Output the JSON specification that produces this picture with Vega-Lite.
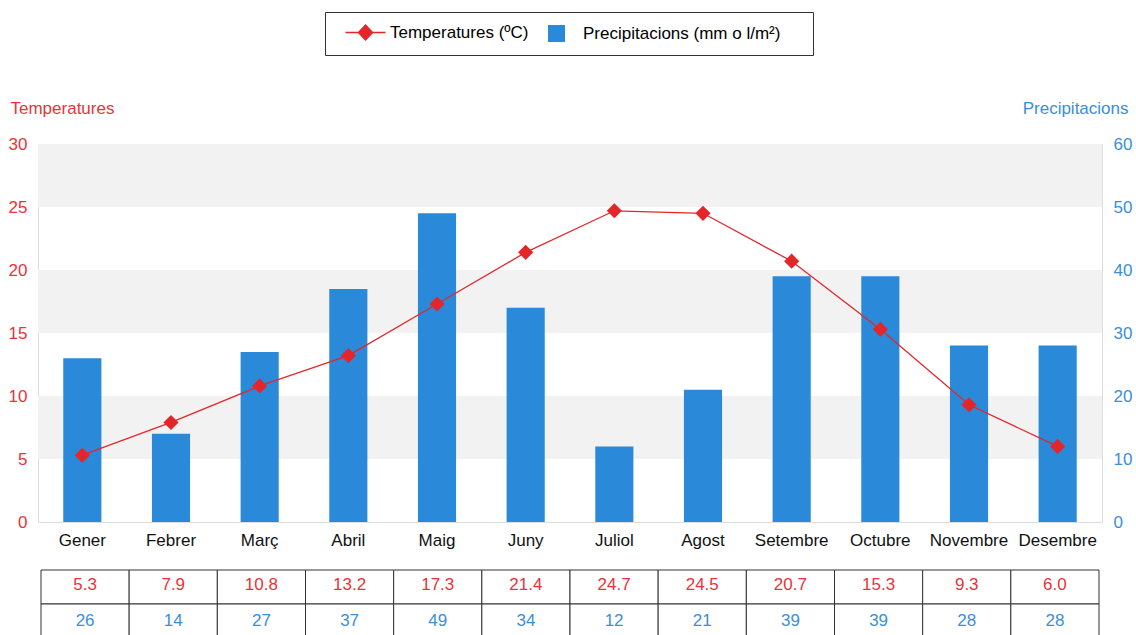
{
  "$schema": "https://vega.github.io/schema/vega-lite/v6.json",
  "padding": {"left": 7, "top": 11, "right": 5, "bottom": 0},
  "config": {
    "font": "Liberation Sans",
    "view": {"stroke": "#dddddd"},
    "axis": {"labelFont": "Liberation Sans", "titleFont": "Liberation Sans"},
    "legend": {"labelFont": "Liberation Sans"}
  },
  "data": {
    "values": [
      {"month": "Gener", "temp": 5.3, "prec": 26},
      {"month": "Febrer", "temp": 7.9, "prec": 14},
      {"month": "Març", "temp": 10.8, "prec": 27},
      {"month": "Abril", "temp": 13.2, "prec": 37},
      {"month": "Maig", "temp": 17.3, "prec": 49},
      {"month": "Juny", "temp": 21.4, "prec": 34},
      {"month": "Juliol", "temp": 24.7, "prec": 12},
      {"month": "Agost", "temp": 24.5, "prec": 21},
      {"month": "Setembre", "temp": 20.7, "prec": 39},
      {"month": "Octubre", "temp": 15.3, "prec": 39},
      {"month": "Novembre", "temp": 9.3, "prec": 28},
      {"month": "Desembre", "temp": 6.0, "prec": 28}
    ]
  },
  "vconcat": [
    {
      "width": 1064,
      "height": 378,
      "layer": [
        {
          "layer": [
            {
              "data": {"values": [{"lo": 10, "hi": 20}, {"lo": 30, "hi": 40}, {"lo": 50, "hi": 60}]},
              "mark": {"type": "rect", "color": "#f2f2f2"},
              "encoding": {
                "y": {"field": "lo", "type": "quantitative", "scale": {"domain": [0, 60]},
                  "axis": {"orient": "right", "values": [0, 10, 20, 30, 40, 50, 60], "title": "Precipitacions", "titleColor": "#3a8fd8", "titleFontSize": 17, "titleFontWeight": "normal", "titleAngle": 0, "titleAlign": "right", "titleBaseline": "alphabetic", "titleX": 26, "titleY": -31, "labelColor": "#3a8fd8", "labelFontSize": 17, "labelPadding": 11, "ticks": false, "domain": false, "grid": false}},
                "y2": {"field": "hi"}
              }
            },
            {
              "mark": {"type": "bar", "color": "#2b89d9"},
              "encoding": {
                "x": {"field": "month", "type": "nominal",
                  "scale": {"domain": ["Gener", "Febrer", "Març", "Abril", "Maig", "Juny", "Juliol", "Agost", "Setembre", "Octubre", "Novembre", "Desembre"], "paddingInner": 0.57, "paddingOuter": 0.285},
                  "axis": {"title": null, "labelAngle": 0, "labelColor": "#111111", "labelFontSize": 17, "labelPadding": 10, "ticks": false, "domain": false, "grid": false}},
                "y": {"field": "prec", "type": "quantitative", "scale": {"domain": [0, 60]},
                  "axis": {"orient": "right", "values": [0, 10, 20, 30, 40, 50, 60], "title": "Precipitacions", "titleColor": "#3a8fd8", "titleFontSize": 17, "titleFontWeight": "normal", "titleAngle": 0, "titleAlign": "right", "titleBaseline": "alphabetic", "titleX": 26, "titleY": -31, "labelColor": "#3a8fd8", "labelFontSize": 17, "labelPadding": 11, "ticks": false, "domain": false, "grid": false}},
                "color": {"datum": "Precipitacions (mm o l/m²)",
                  "scale": {"domain": ["Temperatures (ºC)", "Precipitacions (mm o l/m²)"], "range": ["#e4262b", "#2b89d9"]},
                  "legend": {
                    "title": null, "orient": "none", "legendX": 287, "legendY": -132, "direction": "horizontal",
                    "padding": 12, "strokeColor": "#333333", "fillColor": "#ffffff",
                    "symbolSize": 400, "symbolStrokeWidth": 1.5, "labelOffset": 36, "columnPadding": 1,
                    "labelFontSize": 17, "labelColor": "#000000", "labelLimit": 400,
                    "encode": {
                      "symbols": {"update": {
                        "shape": {"signal": "datum.value === 'Temperatures (ºC)' ? 'M0,0L4,0M1.3,0L2,-0.75L2.7,0L2,0.75Z' : 'M0.95,-0.85H2.65V0.85H0.95ZM26.2,0'"},
                        "fill": {"signal": "scale('color', datum.value)"},
                        "stroke": {"signal": "scale('color', datum.value)"},
                        "strokeWidth": {"signal": "datum.value === 'Temperatures (ºC)' ? 1.5 : 0"},
                        "size": {"value": 400},
                        "opacity": {"value": 1},
                        "fillOpacity": {"value": 1},
                        "strokeOpacity": {"value": 1}
                      }}
                    }
                  }}
              }
            }
          ]
        },
        {
          "layer": [
            {
              "mark": {"type": "line", "strokeWidth": 1.3},
              "encoding": {
                "x": {"field": "month", "type": "nominal"},
                "y": {"field": "temp", "type": "quantitative", "scale": {"domain": [0, 30]},
                  "axis": {"orient": "left", "values": [0, 5, 10, 15, 20, 25, 30], "title": "Temperatures", "titleColor": "#e8333a", "titleFontSize": 17, "titleFontWeight": "normal", "titleAngle": 0, "titleAlign": "left", "titleBaseline": "alphabetic", "titleX": -28, "titleY": -31, "labelColor": "#e8333a", "labelFontSize": 17, "labelPadding": 11, "ticks": false, "domain": false, "grid": false}},
                "color": {"datum": "Temperatures (ºC)"}
              }
            },
            {
              "mark": {"type": "point", "shape": "diamond", "filled": true, "size": 230, "opacity": 1},
              "encoding": {
                "x": {"field": "month", "type": "nominal"},
                "y": {"field": "temp", "type": "quantitative"},
                "color": {"datum": "Temperatures (ºC)"}
              }
            }
          ]
        }
      ],
      "resolve": {"scale": {"y": "independent"}}
    },
    {
      "width": 1058,
      "height": 68,
      "view": {"stroke": null},
      "encoding": {
        "x": {"field": "month", "type": "nominal",
          "scale": {"domain": ["Gener", "Febrer", "Març", "Abril", "Maig", "Juny", "Juliol", "Agost", "Setembre", "Octubre", "Novembre", "Desembre"], "paddingInner": 0, "paddingOuter": 0},
          "axis": null}
      },
      "layer": [
        {
          "transform": [{"fold": ["temp", "prec"], "as": ["key", "value"]}],
          "mark": {"type": "rect", "fill": "#ffffff", "stroke": "#333333", "strokeWidth": 1},
          "encoding": {
            "y": {"field": "key", "type": "nominal", "scale": {"domain": ["temp", "prec"], "paddingInner": 0, "paddingOuter": 0}, "axis": null}
          }
        },
        {
          "mark": {"type": "text", "fontSize": 17, "color": "#e8333a", "dy": -2},
          "encoding": {
            "y": {"datum": "temp", "type": "nominal"},
            "text": {"field": "temp", "type": "quantitative", "format": ".1f"}
          }
        },
        {
          "mark": {"type": "text", "fontSize": 17, "color": "#3a8fd8"},
          "encoding": {
            "y": {"datum": "prec", "type": "nominal"},
            "text": {"field": "prec", "type": "quantitative", "format": "d"}
          }
        }
      ]
    }
  ],
  "spacing": 48,
  "bounds": "flush",
  "center": true,
  "resolve": {"scale": {"x": "independent"}}
}
